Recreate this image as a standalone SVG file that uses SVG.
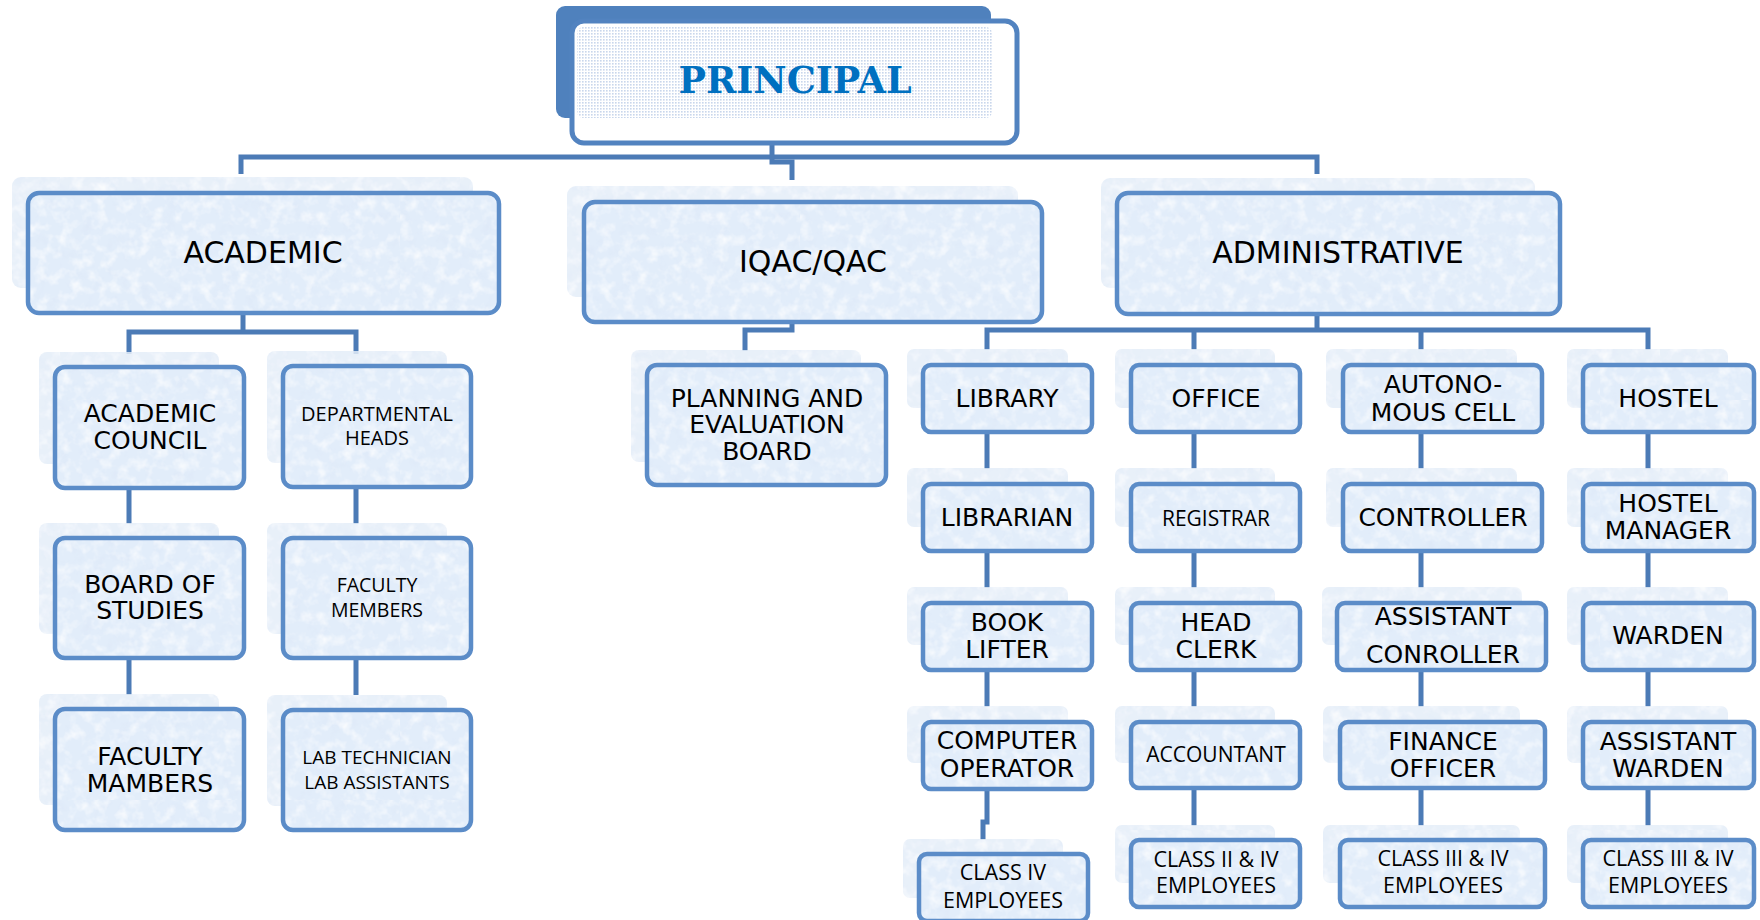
<svg xmlns="http://www.w3.org/2000/svg" width="1760" height="920" viewBox="0 0 1760 920">
<defs>
  <filter id="tn" x="0" y="0" width="1" height="1">
    <feTurbulence type="fractalNoise" baseFrequency="0.085" numOctaves="3" seed="7" result="n"/>
    <feColorMatrix in="n" type="matrix" values="0 0 0 0 1  0 0 0 0 1  0 0 0 0 1  1.7 0 0 0 -0.78" result="w"/>
    <feColorMatrix in="n" type="matrix" values="0 0 0 0 0.72  0 0 0 0 0.80  0 0 0 0 0.93  0 1.5 0 0 -0.82" result="b"/>
    <feMerge><feMergeNode in="b"/><feMergeNode in="w"/></feMerge>
  </filter>
  <pattern id="tex" width="400" height="400" patternUnits="userSpaceOnUse">
    <rect width="400" height="400" fill="#E2EDFA"/>
    <rect width="400" height="400" filter="url(#tn)"/>
  </pattern>
  <pattern id="tex2" width="400" height="400" patternUnits="userSpaceOnUse" x="60" y="30">
    <rect width="400" height="400" fill="#E4EDF8"/>
    <rect width="400" height="400" filter="url(#tn)"/>
  </pattern>
  <pattern id="dots" width="3" height="3" patternUnits="userSpaceOnUse">
    <rect width="3" height="3" fill="#FFFFFF"/>
    <rect width="1.6" height="1.6" fill="#C9D7EC"/>
  </pattern>
  <style>
    .bk{fill:url(#tex2);opacity:0.85}
    .fr{fill:url(#tex);stroke:#5B8CC8;stroke-width:4.5}
    .ln{fill:none;stroke:#4C7BB6;stroke-width:5}
    .v0{font-family:"DejaVu Sans",Verdana,sans-serif;font-size:30px;fill:#000;text-anchor:middle}
    .v1{font-family:"DejaVu Sans",Verdana,sans-serif;font-size:25px;fill:#000;text-anchor:middle}
    .c1{font-family:"Open Sans","Noto Sans",sans-serif;font-size:21.5px;fill:#000;text-anchor:middle}
    .c2{font-family:"Open Sans","Noto Sans",sans-serif;font-size:19.5px;fill:#000;text-anchor:middle}
  </style>
</defs>
<rect width="1760" height="920" fill="#FFFFFF"/>

<g id="connectors">
  <path class="ln" d="M241 174 V157 H1317 V174"/>
  <path class="ln" d="M772 140 V162 H792 V180"/>
  <path class="ln" d="M243 313 V332 H129 V354 M243 332 H356 V354"/>
  <path class="ln" d="M129 488 V524 M129 658 V695"/>
  <path class="ln" d="M356 487 V524 M356 658 V695"/>
  <path class="ln" d="M792 322 V330 H745 V351"/>
  <path class="ln" d="M1317 313 V330 H987 V350 M1317 330 H1648 V350 M1194 330 V350 M1421 330 V350"/>
  <path class="ln" d="M987 432 V469 M987 551 V588 M987 670 V707 M987 789 V822 H983 V840"/>
  <path class="ln" d="M1194 432 V469 M1194 551 V588 M1194 670 V707 M1194 789 V826"/>
  <path class="ln" d="M1421 432 V469 M1421 551 V588 M1421 670 V707 M1421 789 V826"/>
  <path class="ln" d="M1648 432 V469 M1648 551 V588 M1648 670 V707 M1648 789 V826"/>
</g>

<g id="principal">
  <rect x="556" y="6" width="435" height="112" rx="9" fill="#4F81BD"/>
  <rect x="572" y="21" width="445" height="122" rx="12" fill="#FFFFFF" stroke="#5283C0" stroke-width="5"/>
  <rect x="577" y="27" width="415" height="91" rx="6" fill="url(#dots)"/>
  <text x="795" y="93" font-family="'DejaVu Serif','Liberation Serif',serif" font-weight="bold" font-size="36.5" fill="#0070C0" text-anchor="middle">PRINCIPAL</text>
</g>

<g id="academic">
  <rect class="bk" x="12" y="177" width="461" height="111" rx="9"/>
  <rect class="fr" x="28" y="193" width="471" height="120" rx="11"/>
  <text class="v0" x="263" y="263">ACADEMIC</text>
</g>
<g id="iqac">
  <rect class="bk" x="567" y="186" width="451" height="111" rx="9"/>
  <rect class="fr" x="584" y="202" width="458" height="120" rx="11"/>
  <text class="v0" x="813" y="272">IQAC/QAC</text>
</g>
<g id="administrative">
  <rect class="bk" x="1101" y="178" width="434" height="110" rx="9"/>
  <rect class="fr" x="1117" y="193" width="443" height="121" rx="11"/>
  <text class="v0" x="1338" y="263">ADMINISTRATIVE</text>
</g>

<g id="academic-council">
  <rect class="bk" x="39" y="352" width="180" height="112" rx="8"/>
  <rect class="fr" x="55" y="367" width="189" height="121" rx="10"/>
  <text class="v1" x="150" y="422">ACADEMIC</text>
  <text class="v1" x="150" y="449">COUNCIL</text>
</g>
<g id="board-of-studies">
  <rect class="bk" x="39" y="523" width="180" height="111" rx="8"/>
  <rect class="fr" x="55" y="538" width="189" height="120" rx="10"/>
  <text class="v1" x="150" y="593">BOARD OF</text>
  <text class="v1" x="150" y="619">STUDIES</text>
</g>
<g id="faculty-mambers">
  <rect class="bk" x="39" y="694" width="180" height="111" rx="8"/>
  <rect class="fr" x="55" y="709" width="189" height="121" rx="10"/>
  <text class="v1" x="150" y="765">FACULTY</text>
  <text class="v1" x="150" y="792">MAMBERS</text>
</g>
<g id="departmental-heads">
  <rect class="bk" x="267" y="351" width="180" height="112" rx="8"/>
  <rect class="fr" x="283" y="366" width="188" height="121" rx="10"/>
  <text class="c2" x="377" y="421" style="font-size:20px">DEPARTMENTAL</text>
  <text class="c2" x="377" y="445" style="font-size:20px">HEADS</text>
</g>
<g id="faculty-members">
  <rect class="bk" x="267" y="523" width="180" height="111" rx="8"/>
  <rect class="fr" x="283" y="538" width="188" height="120" rx="10"/>
  <text class="c2" x="377" y="592">FACULTY</text>
  <text class="c2" x="377" y="617">MEMBERS</text>
</g>
<g id="lab-technician">
  <rect class="bk" x="267" y="695" width="180" height="111" rx="8"/>
  <rect class="fr" x="283" y="710" width="188" height="120" rx="10"/>
  <text class="c2" x="377" y="764" style="font-size:19px">LAB TECHNICIAN</text>
  <text class="c2" x="377" y="789" style="font-size:19px">LAB ASSISTANTS</text>
</g>

<g id="planning">
  <rect class="bk" x="631" y="350" width="230" height="112" rx="8"/>
  <rect class="fr" x="647" y="365" width="239" height="120" rx="10"/>
  <text class="v1" x="767" y="407">PLANNING AND</text>
  <text class="v1" x="767" y="433">EVALUATION</text>
  <text class="v1" x="767" y="460">BOARD</text>
</g>

<g id="library">
  <rect class="bk" x="907" y="349" width="161" height="59" rx="7"/>
  <rect class="fr" x="923" y="365" width="169" height="67" rx="8"/>
  <text class="v1" x="1007" y="407">LIBRARY</text>
</g>
<g id="librarian">
  <rect class="bk" x="907" y="468" width="161" height="59" rx="7"/>
  <rect class="fr" x="923" y="484" width="169" height="67" rx="8"/>
  <text class="v1" x="1007" y="526">LIBRARIAN</text>
</g>
<g id="book-lifter">
  <rect class="bk" x="907" y="587" width="161" height="58" rx="7"/>
  <rect class="fr" x="923" y="603" width="169" height="67" rx="8"/>
  <text class="v1" x="1007" y="631">BOOK</text>
  <text class="v1" x="1007" y="658">LIFTER</text>
</g>
<g id="computer-operator">
  <rect class="bk" x="907" y="706" width="161" height="57" rx="7"/>
  <rect class="fr" x="923" y="722" width="169" height="67" rx="8"/>
  <text class="v1" x="1007" y="749">COMPUTER</text>
  <text class="v1" x="1007" y="777">OPERATOR</text>
</g>
<g id="class-iv">
  <rect class="bk" x="903" y="839" width="160" height="59" rx="7"/>
  <rect class="fr" x="919" y="854" width="169" height="67" rx="8"/>
  <text class="c1" x="1003" y="880">CLASS IV</text>
  <text class="c1" x="1003" y="908">EMPLOYEES</text>
</g>

<g id="office">
  <rect class="bk" x="1115" y="349" width="160" height="59" rx="7"/>
  <rect class="fr" x="1131" y="365" width="169" height="67" rx="8"/>
  <text class="v1" x="1216" y="407">OFFICE</text>
</g>
<g id="registrar">
  <rect class="bk" x="1115" y="468" width="160" height="59" rx="7"/>
  <rect class="fr" x="1131" y="484" width="169" height="67" rx="8"/>
  <text class="c1" x="1216" y="526" style="font-size:21px">REGISTRAR</text>
</g>
<g id="head-clerk">
  <rect class="bk" x="1115" y="587" width="160" height="58" rx="7"/>
  <rect class="fr" x="1131" y="603" width="169" height="67" rx="8"/>
  <text class="v1" x="1216" y="631">HEAD</text>
  <text class="v1" x="1216" y="658">CLERK</text>
</g>
<g id="accountant">
  <rect class="bk" x="1115" y="706" width="160" height="57" rx="7"/>
  <rect class="fr" x="1131" y="722" width="169" height="66" rx="8"/>
  <text class="c1" x="1216" y="762" style="font-size:21px">ACCOUNTANT</text>
</g>
<g id="class-ii-iv">
  <rect class="bk" x="1115" y="825" width="160" height="58" rx="7"/>
  <rect class="fr" x="1131" y="840" width="169" height="67" rx="8"/>
  <text class="c1" x="1216" y="867">CLASS II &amp; IV</text>
  <text class="c1" x="1216" y="893">EMPLOYEES</text>
</g>

<g id="autonomous-cell">
  <rect class="bk" x="1326" y="349" width="191" height="59" rx="7"/>
  <rect class="fr" x="1343" y="365" width="199" height="67" rx="8"/>
  <text class="v1" x="1443" y="393">AUTONO-</text>
  <text class="v1" x="1443" y="421">MOUS CELL</text>
</g>
<g id="controller">
  <rect class="bk" x="1326" y="468" width="191" height="59" rx="7"/>
  <rect class="fr" x="1343" y="484" width="199" height="67" rx="8"/>
  <text class="v1" x="1443" y="526">CONTROLLER</text>
</g>
<g id="assistant-controller">
  <rect class="bk" x="1322" y="587" width="200" height="58" rx="7"/>
  <rect class="fr" x="1337" y="603" width="209" height="67" rx="8"/>
  <text class="v1" x="1443" y="625">ASSISTANT</text>
  <text class="v1" x="1443" y="663">CONROLLER</text>
</g>
<g id="finance-officer">
  <rect class="bk" x="1323" y="706" width="197" height="57" rx="7"/>
  <rect class="fr" x="1340" y="722" width="205" height="66" rx="8"/>
  <text class="v1" x="1443" y="750">FINANCE</text>
  <text class="v1" x="1443" y="777">OFFICER</text>
</g>
<g id="class-iii-iv-a">
  <rect class="bk" x="1323" y="825" width="197" height="58" rx="7"/>
  <rect class="fr" x="1340" y="840" width="205" height="67" rx="8"/>
  <text class="c1" x="1443" y="866">CLASS III &amp; IV</text>
  <text class="c1" x="1443" y="893">EMPLOYEES</text>
</g>

<g id="hostel">
  <rect class="bk" x="1567" y="349" width="161" height="59" rx="7"/>
  <rect class="fr" x="1583" y="365" width="171" height="67" rx="8"/>
  <text class="v1" x="1668" y="407">HOSTEL</text>
</g>
<g id="hostel-manager">
  <rect class="bk" x="1567" y="468" width="161" height="59" rx="7"/>
  <rect class="fr" x="1583" y="484" width="171" height="67" rx="8"/>
  <text class="v1" x="1668" y="512">HOSTEL</text>
  <text class="v1" x="1668" y="539">MANAGER</text>
</g>
<g id="warden">
  <rect class="bk" x="1567" y="587" width="161" height="58" rx="7"/>
  <rect class="fr" x="1583" y="603" width="171" height="67" rx="8"/>
  <text class="v1" x="1668" y="644">WARDEN</text>
</g>
<g id="assistant-warden">
  <rect class="bk" x="1567" y="706" width="161" height="57" rx="7"/>
  <rect class="fr" x="1583" y="722" width="171" height="66" rx="8"/>
  <text class="v1" x="1668" y="750">ASSISTANT</text>
  <text class="v1" x="1668" y="777">WARDEN</text>
</g>
<g id="class-iii-iv-b">
  <rect class="bk" x="1567" y="825" width="161" height="58" rx="7"/>
  <rect class="fr" x="1583" y="840" width="171" height="67" rx="8"/>
  <text class="c1" x="1668" y="866">CLASS III &amp; IV</text>
  <text class="c1" x="1668" y="893">EMPLOYEES</text>
</g>
</svg>
